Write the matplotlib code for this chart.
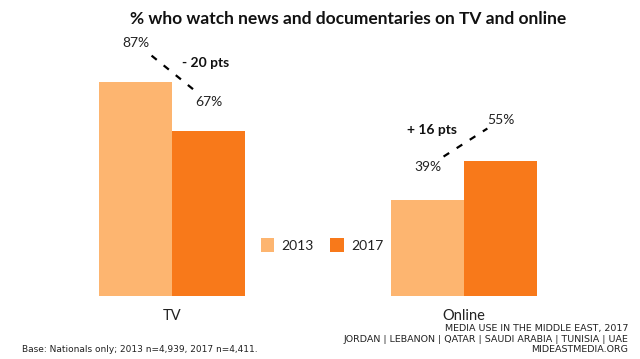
import numpy as np
import matplotlib
matplotlib.use('Agg')
import matplotlib.pyplot as plt

# data
categories = ["TV", "Online"]
years = ["2013", "2017"]
values_2013 = [87, 39]
values_2017 = [67, 55]
colors = ["#FDB570", "#F8791A"]

title = "% who watch news and documentaries on TV and online"
base_note = "Base: Nationals only; 2013 n=4,939, 2017 n=4,411."
source_lines = ["MEDIA USE IN THE MIDDLE EAST, 2017",
                "JORDAN | LEBANON | QATAR | SAUDI ARABIA | TUNISIA | UAE",
                "MIDEASTMEDIA.ORG"]

plt.rcParams['font.family'] = ['Lato', 'DejaVu Sans']

fig = plt.figure(figsize=(6.4, 3.59), dpi=100)
ax = fig.add_axes([40 / 640, 63 / 359, 560 / 640, 246 / 359])

x = np.arange(len(categories))
w = 0.25
ax.bar(x - w / 2, values_2013, w, color=colors[0], label=years[0])
ax.bar(x + w / 2, values_2017, w, color=colors[1], label=years[1])

ax.set_xlim(-132 / 292, 428 / 292)
ax.set_ylim(0, 100)
for s in ax.spines.values():
    s.set_visible(False)
ax.set_yticks([])
ax.set_xticks(x)
ax.set_xticklabels(categories, fontsize=10.5, color="#222222")
ax.tick_params(axis='x', length=0, pad=9)

# value labels, dashed connectors, difference labels
lab_off = [(16, 12), (13.5, 16.5)]
for i in range(len(categories)):
    v1, v2 = values_2013[i], values_2017[i]
    o1, o2 = lab_off[i]
    p1 = np.array([x[i] - w / 2, v1 + o1])
    p2 = np.array([x[i] + w / 2, v2 + o2])
    ax.text(p1[0], p1[1], f"{v1}%", ha='center', va='center', fontsize=10, color="#222222")
    ax.text(p2[0], p2[1], f"{v2}%", ha='center', va='center', fontsize=10, color="#222222")
    a = p1 + 0.22 * (p2 - p1)
    b = p1 + 0.82 * (p2 - p1)
    ax.plot([a[0], b[0]], [a[1], b[1]], ls=(0, (3, 4)), color='black', lw=1.6)
    d = v2 - v1
    mid = (a + b) / 2
    txt = f"- {abs(d)} pts" if d < 0 else f"+ {d} pts"
    if d < 0:
        ax.text(mid[0] + 0.03, mid[1] + 4, txt, ha='left', va='center',
                fontsize=10, fontweight='bold', color="#111111")
    else:
        ax.text(mid[0] - 0.03, mid[1] + 5, txt, ha='right', va='center',
                fontsize=10, fontweight='bold', color="#111111")

leg = ax.legend(loc='center', bbox_to_anchor=(282 / 560, (296 - 245) / 246),
                ncol=2, frameon=False, fontsize=10, handlelength=1.0, handleheight=1.2,
                handletextpad=0.5, columnspacing=1.2)
for t in leg.get_texts():
    t.set_color("#222222")

fig.text(348 / 640, 1 - 19 / 359, title, ha='center', va='center',
         fontsize=12.5, fontweight='bold', color="#111111")
fig.text(22 / 640, 1 - 350 / 359, base_note, ha='left', va='center',
         fontsize=6.5, color="#222222", family='DejaVu Sans')
for k, line in enumerate(source_lines):
    fig.text(628 / 640, 1 - (328 + 11 * k) / 359, line, ha='right', va='center',
             fontsize=6.8, color="#222222", family='DejaVu Sans')

fig.savefig("out.png", dpi=100)
